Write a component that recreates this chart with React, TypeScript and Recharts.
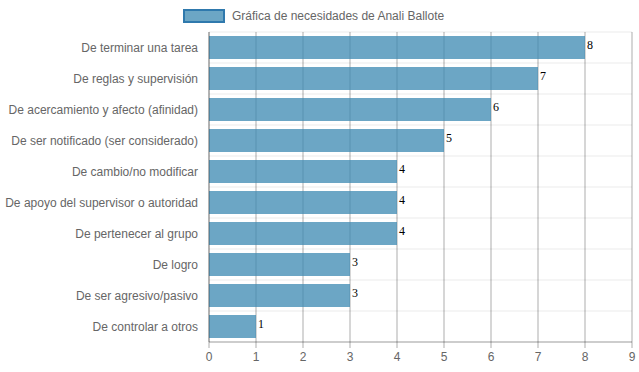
import { BarChart, Bar, XAxis, YAxis, CartesianGrid, LabelList } from "recharts";

const categories = [
  "De terminar una tarea",
  "De reglas y supervisión",
  "De acercamiento y afecto (afinidad)",
  "De ser notificado (ser considerado)",
  "De cambio/no modificar",
  "De apoyo del supervisor o autoridad",
  "De pertenecer al grupo",
  "De logro",
  "De ser agresivo/pasivo",
  "De controlar a otros",
];
const values = [8, 7, 6, 5, 4, 4, 4, 3, 3, 1];
const xTicks = [0, 1, 2, 3, 4, 5, 6, 7, 8, 9];
const seriesName = "Gráfica de necesidades de Anali Ballote";

const data = categories.map((name, i) => ({ name, value: values[i] }));

const font = "'Liberation Sans', Arial, Helvetica, sans-serif";

// plain svg text so long category names stay on one line
const CategoryTick = (props: any) => {
  const { x, y, payload } = props;
  return (
    <text
      x={x}
      y={y}
      dy="0.35em"
      textAnchor="end"
      fill="#666"
      fontSize={12}
      fontFamily={font}
    >
      {payload.value}
    </text>
  );
};

export default function App() {
  return (
    <div style={{ position: "absolute", left: 0, top: 0, width: 639, height: 372 }}>
      {/* legend */}
      <div
        style={{
          position: "absolute",
          left: 183,
          top: 9,
          width: 42,
          height: 14,
          boxSizing: "border-box",
          border: "2px solid #2f79ad",
          background: "#6ca6c5",
        }}
      />
      <div
        style={{
          position: "absolute",
          left: 232,
          top: 8,
          fontFamily: font,
          fontSize: 12,
          lineHeight: "16px",
          color: "#666",
          whiteSpace: "nowrap",
        }}
      >
        {seriesName}
      </div>

      <BarChart
        width={639}
        height={372}
        data={data}
        layout="vertical"
        margin={{ top: 32, right: 7, bottom: 0, left: 0 }}
      >
        <CartesianGrid
          vertical={false}
          stroke="rgba(0,0,0,0.08)"
          horizontalCoordinatesGenerator={({ offset }: any) =>
            Array.from(
              { length: categories.length + 1 },
              (_, i) => offset.top + (i * offset.height) / categories.length
            )
          }
        />
        <CartesianGrid horizontal={false} stroke="rgba(0,0,0,0.32)" />
        <XAxis
          type="number"
          domain={[0, 9]}
          ticks={xTicks}
          height={30}
          interval={0}
          axisLine={{ stroke: "rgba(0,0,0,0.32)" }}
          tickLine={{ stroke: "rgba(0,0,0,0.32)" }}
          tickSize={6}
          tickMargin={4}
          tick={{ fill: "#666", fontSize: 12, fontFamily: font }}
        />
        <YAxis
          type="category"
          dataKey="name"
          width={209}
          interval={0}
          axisLine={{ stroke: "rgba(0,0,0,0.32)" }}
          tickLine={false}
          tickSize={0}
          tickMargin={11}
          tick={<CategoryTick />}
        />
        <Bar
          dataKey="value"
          fill="rgb(59,136,178)"
          fillOpacity={0.75}
          barSize={23}
          isAnimationActive={false}
        >
          <LabelList
            dataKey="value"
            position="right"
            offset={2}
            dy={-3}
            fill="#000"
            fontSize={12}
            fontFamily="'Liberation Serif', 'Times New Roman', serif"
          />
        </Bar>
      </BarChart>
    </div>
  );
}
